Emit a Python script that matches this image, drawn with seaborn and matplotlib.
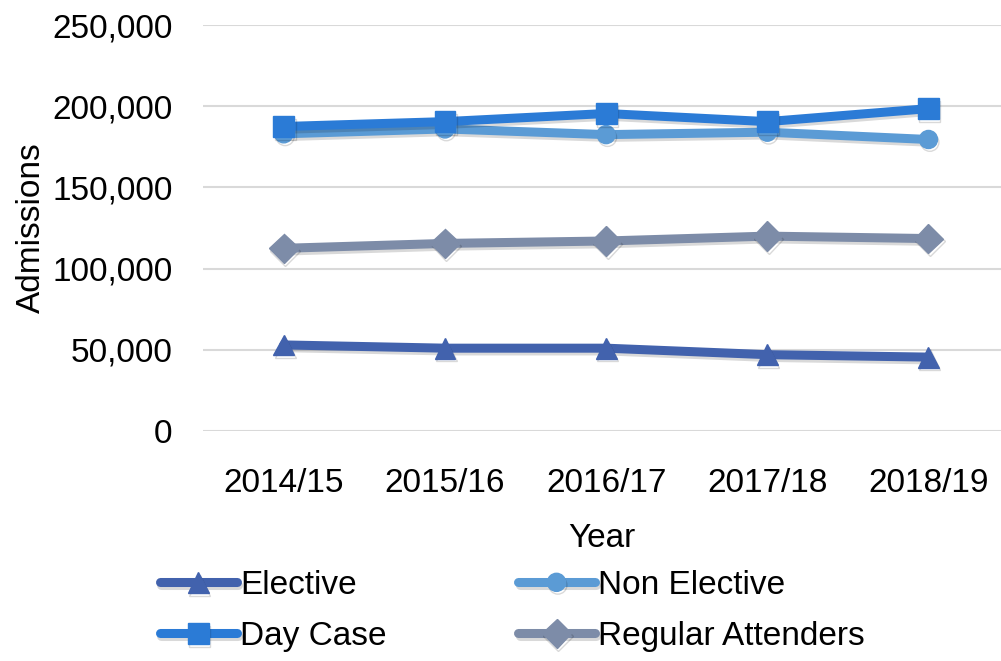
import pandas as pd
import seaborn as sns
import matplotlib.pyplot as plt
import matplotlib.patheffects as pe
from matplotlib.ticker import FuncFormatter

# Data
years = ["2014/15", "2015/16", "2016/17", "2017/18", "2018/19"]
elective = [53000, 51000, 51000, 47000, 45500]
non_elective = [183000, 186000, 182500, 184000, 179500]
day_case = [187500, 190500, 195500, 190500, 198500]
regular_attenders = [112500, 115500, 117000, 120000, 118500]

series = ["Elective", "Non Elective", "Day Case", "Regular Attenders"]
colors = ["#4262AD", "#5B9BD5", "#2B7BD6", "#7D8CA8"]
markers = ["^", "o", "s", "D"]
msizes = [15, 13, 15, 15]

df = pd.DataFrame({"year": years,
                   "Elective": elective,
                   "Non Elective": non_elective,
                   "Day Case": day_case,
                   "Regular Attenders": regular_attenders})
df_long = df.melt(id_vars="year", var_name="type", value_name="admissions")

sns.set_theme(style="white")
plt.rcParams["font.family"] = ["Liberation Sans", "DejaVu Sans"]

fig = plt.figure(figsize=(10.01, 6.61), dpi=100)
ax = fig.add_axes([0.203, 1 - 431 / 661, 0.797, (431 - 25) / 661])

# subtle drop shadow like the original
shadow = [pe.SimpleLineShadow(offset=(1, -2), alpha=0.15, shadow_color="black"),
          pe.Normal()]

for name, col, mk, ms in zip(series, colors, markers, msizes):
    sub = df_long[df_long.type == name]
    sns.lineplot(data=sub, x="year", y="admissions", ax=ax, sort=False,
                 color=col, linewidth=6.5, marker=mk, markersize=ms,
                 markeredgecolor=col, markeredgewidth=1, label=name,
                 path_effects=shadow)

ax.set_ylim(0, 250000)
ax.set_xlim(-0.5, 4.45)
ax.set_yticks(range(0, 250001, 50000))
ax.yaxis.set_major_formatter(FuncFormatter(lambda v, p: f"{int(v):,}"))
ax.grid(axis="y", color="#D9D9D9", linewidth=1.5)
ax.grid(axis="x", visible=False)
ax.set_axisbelow(True)
for s in ax.spines.values():
    s.set_visible(False)

ax.tick_params(axis="y", labelsize=24, pad=22, length=0, colors="black")
ax.tick_params(axis="x", labelsize=24, pad=27, length=0, colors="black")
ax.set_ylabel("Admissions", fontsize=24, labelpad=4, color="black")
ax.set_xlabel("Year", fontsize=24, labelpad=17, color="black")

# legend fills row by row: Elective, Non Elective / Day Case, Regular Attenders
handles, labels = ax.get_legend_handles_labels()
order = [0, 2, 1, 3]
ax.legend([handles[i] for i in order], [labels[i] for i in order],
          loc="center left", bbox_to_anchor=(160 / 1001, 1 - 611 / 661),
          bbox_transform=fig.transFigure, ncol=2, frameon=False,
          fontsize=24, handlelength=2.3, handletextpad=0.1,
          columnspacing=3.95, labelspacing=0.6, borderaxespad=0,
          borderpad=0, labelcolor="black")

fig.savefig("out.png", dpi=100)
